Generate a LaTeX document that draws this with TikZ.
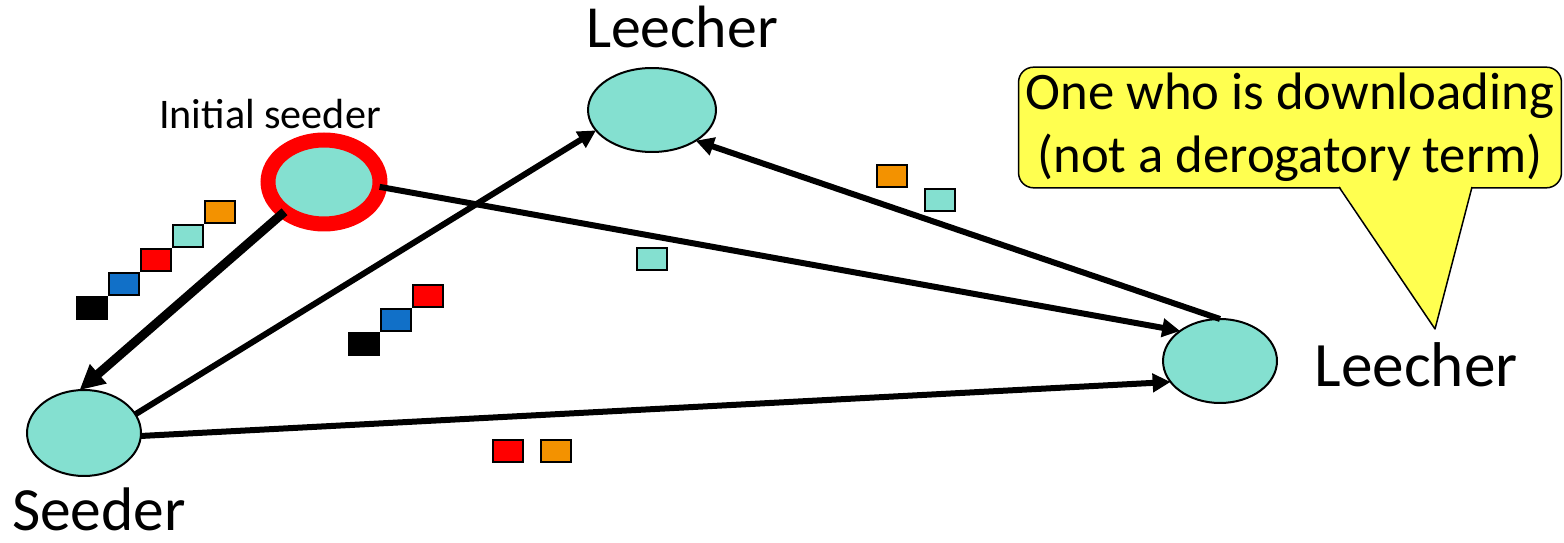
\documentclass[tikz,border=0pt]{standalone}
\usepackage{fontspec}
\setmainfont{Carlito}
\usetikzlibrary{arrows.meta, shapes.geometric}
\definecolor{pieceT}{RGB}{132,224,208}
\definecolor{pieceR}{RGB}{255,0,0}
\definecolor{pieceB}{RGB}{17,112,200}
\definecolor{pieceO}{RGB}{243,146,0}
\definecolor{noteY}{RGB}{255,255,80}
\tikzstyle{peer}=[ellipse, draw=black, fill=pieceT, line width=0.04cm, minimum width=2.28cm, minimum height=1.68cm, inner sep=0pt, outer sep=0pt]
\tikzstyle{piece}=[rectangle, draw=black, line width=0.05cm, minimum width=0.6cm, minimum height=0.44cm, inner sep=0pt]
\tikzstyle{link}=[line width=0.12cm, -{Triangle[length=0.36cm, width=0.36cm]}]
\tikzstyle{fatlink}=[line width=0.18cm, -{Triangle[length=0.5cm, width=0.48cm]}]
\tikzstyle{role}=[font=\fontsize{34pt}{40pt}\selectfont, anchor=base, inner sep=0pt]
\tikzstyle{note}=[rectangle, rounded corners=0.3cm, draw=black, fill=noteY, line width=0.03cm, minimum width=10.86cm, minimum height=2.38cm, align=center, font=\fontsize{30pt}{36pt}\selectfont]

\begin{document}
\begin{tikzpicture}[x=0.02cm, y=-0.02cm]
	\useasboundingbox (0,0) rectangle (1564,543);

	% Peers of the swarm
	\node[peer, draw=pieceR, line width=0.3cm, minimum width=2.24cm] (iseed) at (324,182) {};
	\node[peer, minimum width=2.56cm] (tleech) at (652,110) {};
	\node[peer] (rleech) at (1220,361) {};
	\node[peer, minimum height=1.72cm] (seeder) at (84,433) {};

	\node[role] (tlabel) at (682,48) {Leecher};
	\node[role, font=\fontsize{36pt}{42pt}\selectfont] (rlabel) at (1416,387) {Leecher};
	\node[role, font=\fontsize{35pt}{41pt}\selectfont] (slabel) at (99,530) {Seeder};
	\node[role, font=\fontsize{24pt}{29pt}\selectfont] (ilabel) at (270,129) {Initial seeder};

	% Uploads between peers
	\draw[fatlink] (iseed.217) -- (seeder.96);
	\draw[link] (iseed.-5) -- (rleech.143);
	\draw[link] (seeder.20) -- (tleech.200);
	\draw[link] (seeder.-3) -- (rleech.203);
	\draw[link] (rleech.north) -- (tleech.-35);

	% Pieces of the file
	\foreach \c [count=\i from 0] in {black, pieceB, pieceR, pieceT, pieceO}{
		\node[piece, fill=\c] (s\i) at ({92+32*\i},{308-24*\i}) {};
	}
	\foreach \c [count=\i from 0] in {black, pieceB, pieceR}{
		\node[piece, fill=\c] (m\i) at ({364+32*\i},{344-24*\i}) {};
	}
	\node[piece, fill=pieceO] (t0) at (892,176) {};
	\node[piece, fill=pieceT] (t1) at (940,200) {};
	\node[piece, fill=pieceT] (c0) at (652,259) {};
	\node[piece, fill=pieceR] (b0) at (508,451) {};
	\node[piece, fill=pieceO] (b1) at (556,451) {};

	% Speech bubble
	\node[note] (note) at (1290,127.5) {One who is downloading\\(not a derogatory term)};
	\coordinate (pl) at (1339,187);
	\coordinate (pr) at (1472,187);
	\coordinate (tip) at (1435,329);
	\fill[noteY] ([yshift=1pt]pl) -- (tip) -- ([yshift=1pt]pr) -- cycle;
	\draw[line width=0.03cm, line join=round] (pl) -- (tip) -- (pr);
\end{tikzpicture}
\end{document}
